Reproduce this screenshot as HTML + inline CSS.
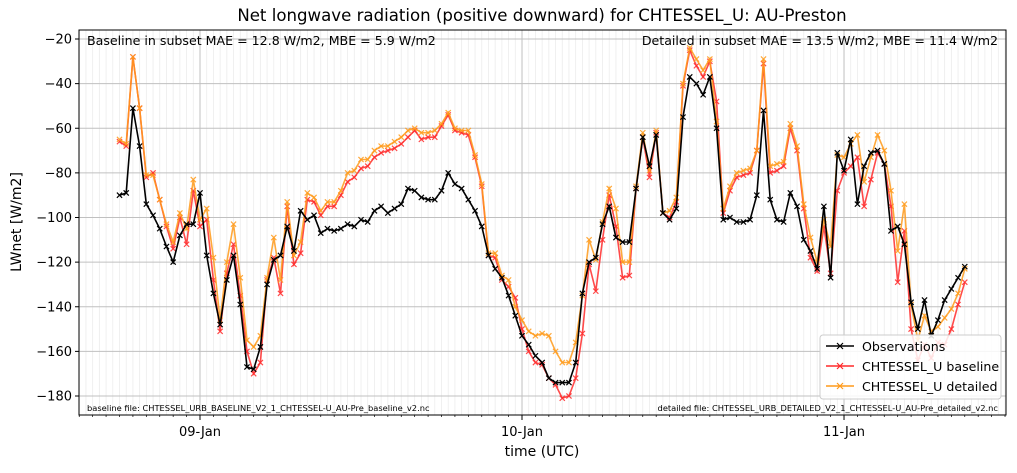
<!DOCTYPE html>
<html><head><meta charset="utf-8"><style>
body{margin:0;background:#fff;font-family:"Liberation Sans","DejaVu Sans",sans-serif}
</style></head><body>
<svg id="chart" width="1017" height="468" xmlns="http://www.w3.org/2000/svg" font-family="DejaVu Sans, Liberation Sans, sans-serif">
<rect width="1017" height="468" fill="#fff"/>
<g id="grid"></g><g id="series"></g><g id="axes"></g>
</svg>
<script>
const dayLabels=["09-Jan","10-Jan","11-Jan"];
const yTicks=[-20,-40,-60,-80,-100,-120,-140,-160,-180];
const obs=[-90,-89,-51,-68,-94,-99,-105,-113,-120,-108,
-103,-103,-89,-117,-134,-148,-128,-117,-139,-167,
-168,-158,-130,-119,-117,-104,-115,-97,-101,-99,
-107,-105,-106,-105,-103,-104,-101,-102,-97,-95,
-98,-96,-94,-87,-88,-91,-92,-92,-88,-80,
-85,-87,-92,-97,-104,-117,-123,-127,-135,-144,
-153,-157,-162,-165,-172,-174,-174,-174,-165,-134,
-120,-118,-103,-95,-109,-111,-111,-87,-64,-77,
-63,-98,-101,-96,-55,-37,-40,-45,-37,-60,
-101,-100,-102,-102,-101,-90,-52,-92,-101,-102,
-89,-95,-110,-115,-123,-95,-127,-71,-79,-65,
-94,-77,-71,-70,-76,-106,-104,-112,-138,-150,
-137,-153,-146,-137,-132,-127,-122];
const baseline=[-66,-68,-28,-51,-82,-80,-92,-104,-114,-100,
-112,-88,-104,-101,-128,-151,-125,-112,-135,-160,
-170,-165,-128,-118,-134,-95,-121,-116,-92,-93,
-99,-95,-95,-90,-84,-82,-78,-77,-73,-71,
-70,-69,-67,-64,-61,-65,-64,-64,-59,-54,
-61,-62,-63,-73,-86,-117,-118,-128,-131,-136,
-150,-160,-165,-166,-172,-175,-181,-180,-172,-152,
-121,-133,-110,-90,-104,-127,-126,-87,-64,-82,
-62,-98,-100,-93,-41,-25,-32,-37,-30,-48,
-98,-88,-82,-81,-80,-70,-31,-80,-79,-77,
-60,-70,-96,-118,-124,-104,-125,-88,-80,-77,
-73,-95,-83,-71,-76,-95,-129,-106,-150,-164,
-157,-163,-156,-157,-150,-139,-129];
const detailed=[-65,-67,-28,-51,-81,-81,-92,-103,-111,-98,
-105,-83,-101,-96,-118,-146,-120,-103,-127,-155,
-158,-153,-127,-109,-128,-93,-117,-111,-89,-91,
-97,-93,-93,-88,-80,-79,-74,-74,-70,-68,
-68,-66,-64,-61,-60,-62,-62,-61,-58,-53,
-60,-61,-61,-72,-85,-116,-116,-126,-128,-140,
-146,-151,-153,-152,-153,-160,-165,-165,-156,-135,
-110,-119,-102,-87,-96,-120,-120,-86,-62,-79,
-61,-98,-97,-91,-40,-24,-29,-34,-29,-57,
-96,-86,-80,-79,-78,-70,-29,-77,-76,-75,
-58,-68,-94,-109,-120,-101,-113,-72,-73,-67,
-63,-84,-73,-63,-70,-88,-115,-94,-139,-155,
-144,-151,-149,-145,-141,-134,-123];
const L=79,R=1006,T=30,B=415;
const startHour=-6, step=0.5;
function xs(h){return 200+h*13.417;}
function ys(v){return 39+(-20-v)*2.2313;}
const NS="http://www.w3.org/2000/svg";
function mk(tag,attrs,parent){const e=document.createElementNS(NS,tag);for(const k in attrs)e.setAttribute(k,attrs[k]);parent.appendChild(e);return e;}
const grid=document.getElementById('grid'),ser=document.getElementById('series'),ax=document.getElementById('axes');
for(let h=-9;h<=60.5;h+=0.5){const x=xs(h);if(x<L||x>R)continue;
 const g=mk('line',{x1:x,x2:x,y1:T,y2:B,stroke:'#ececec','stroke-width':0.8},grid);
 
 }
yTicks.forEach(v=>{const l=mk('line',{x1:L,x2:R,y1:ys(v),y2:ys(v),stroke:'#c0c0c0','stroke-width':1},grid);
 
 });
dayLabels.forEach((d,i)=>{const l=mk('line',{x1:xs(i*24),x2:xs(i*24),y1:T,y2:B,stroke:'#c0c0c0','stroke-width':1},grid);
 
 });
function drawSeries(vals,color,name,op){
 const g=mk('g',{},ser);
 
 
 const pts=vals.map((v,i)=>xs(startHour+i*step).toFixed(1)+','+ys(v).toFixed(1)).join(' ');
 mk('polyline',{points:pts,fill:'none',stroke:color,'stroke-width':1.6,'stroke-opacity':op},g);
 vals.forEach((v,i)=>{const x=xs(startHour+i*step),y=ys(v),s=2.6;
  const p=mk('path',{d:`M${x-s},${y-s}L${x+s},${y+s}M${x-s},${y+s}L${x+s},${y-s}`,stroke:color,'stroke-width':1.2,'stroke-opacity':op},g);
  
  });
}
drawSeries(baseline,'#ff2a2a','baseline-series',0.85);
drawSeries(detailed,'#ff9a1a','detailed-series',0.85);
drawSeries(obs,'#000000','observations-series',1);
const fr=mk('rect',{x:L,y:T,width:R-L,height:B-T,fill:'none',stroke:'#000','stroke-width':1},ax);


yTicks.forEach(v=>{const y=ys(v);mk('line',{x1:L-4,x2:L,y1:y,y2:y,stroke:'#000'},ax);
 const t=mk('text',{x:L-7,y:y+4.5,'text-anchor':'end','font-size':13},ax);t.textContent='−'+Math.abs(v);
 
 });
for(let h=-9;h<=60;h+=1){const x=xs(h);if(x<L)continue;mk('line',{x1:x,x2:x,y1:B,y2:B+2,stroke:'#000','stroke-width':0.7},ax);}
dayLabels.forEach((d,i)=>{const x=xs(i*24);mk('line',{x1:x,x2:x,y1:B,y2:B+5,stroke:'#000'},ax);
 const t=mk('text',{x:x,y:B+21,'text-anchor':'middle','font-size':13},ax);t.textContent=d;
 
 });
</script>
<svg style="position:absolute;left:0;top:0" width="1017" height="468" font-family="DejaVu Sans, Liberation Sans, sans-serif">
<text x="542" y="21" text-anchor="middle" font-size="16.6">Net longwave radiation (positive downward) for CHTESSEL_U: AU-Preston</text>
<text x="542" y="456" text-anchor="middle" font-size="14">time (UTC)</text>
<text transform="translate(21,222) rotate(-90)" text-anchor="middle" font-size="14">LWnet [W/m2]</text>
<text x="87" y="45" font-size="12.6">Baseline in subset MAE = 12.8 W/m2, MBE = 5.9 W/m2</text>
<text x="998" y="45" text-anchor="end" font-size="12.6">Detailed in subset MAE = 13.5 W/m2, MBE = 11.4 W/m2</text>
<text x="87" y="411" font-size="8.3">baseline file: CHTESSEL_URB_BASELINE_V2_1_CHTESSEL-U_AU-Pre_baseline_v2.nc</text>
<text x="998" y="411" text-anchor="end" font-size="8.3">detailed file: CHTESSEL_URB_DETAILED_V2_1_CHTESSEL-U_AU-Pre_detailed_v2.nc</text>
<g>
<rect x="820" y="335" width="181" height="64" rx="3" fill="#fff" fill-opacity="0.85" stroke="#ccc"/>
<line x1="826" x2="854" y1="346" y2="346" stroke="#000" stroke-width="1.6"/><path d="M837,343L843,349M837,349L843,343" stroke="#000" stroke-width="1.2"/>
<text x="862" y="351" font-size="12.6">Observations</text>
<line x1="826" x2="854" y1="366" y2="366" stroke="#ff2a2a" stroke-width="1.6"/><path d="M837,363L843,369M837,369L843,363" stroke="#ff2a2a" stroke-width="1.2"/>
<text x="862" y="371" font-size="12.6">CHTESSEL_U baseline</text>
<line x1="826" x2="854" y1="386" y2="386" stroke="#ff9a1a" stroke-width="1.6"/><path d="M837,383L843,389M837,389L843,383" stroke="#ff9a1a" stroke-width="1.2"/>
<text x="862" y="391" font-size="12.6">CHTESSEL_U detailed</text>
</g>
</svg>
</body></html>
